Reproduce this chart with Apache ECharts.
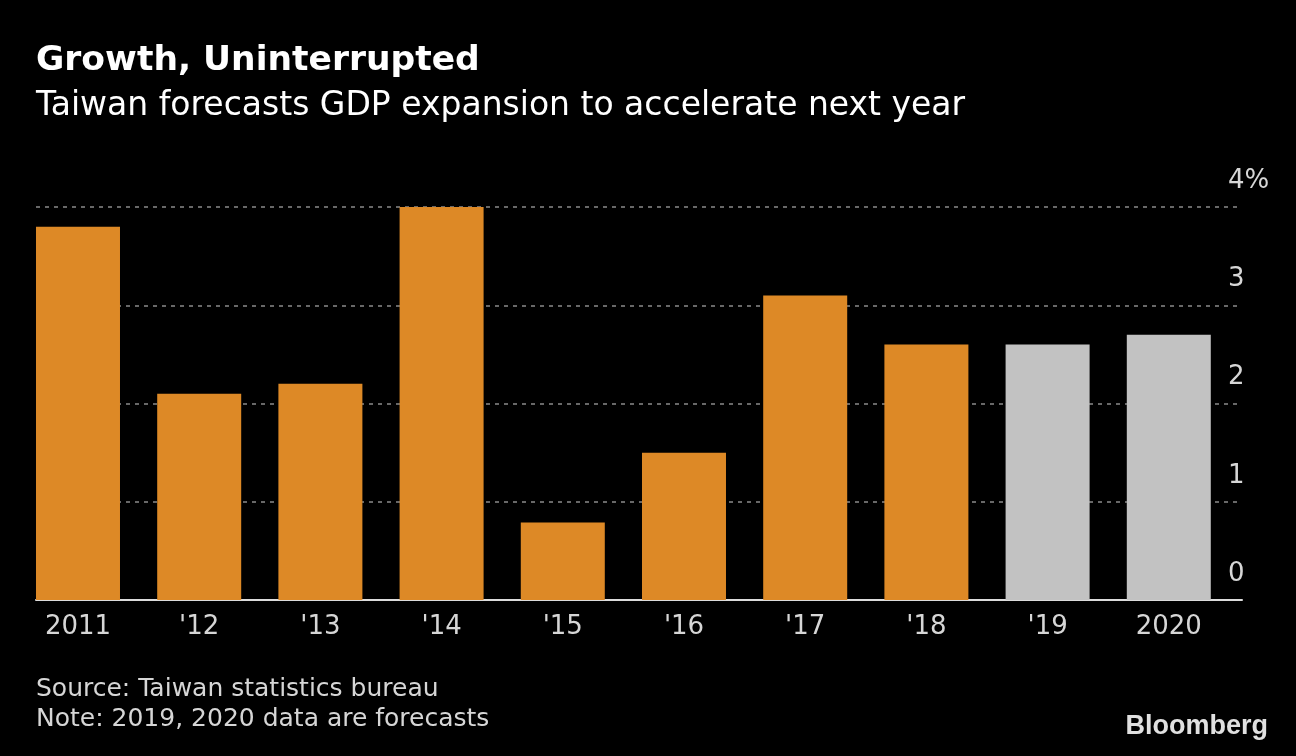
<!DOCTYPE html>
<html>
<head>
<meta charset="utf-8">
<style>
  html, body { margin: 0; padding: 0; background: #000; }
  #chart { width: 1296px; height: 756px; }
</style>
<script src="https://cdn.jsdelivr.net/npm/echarts@6/dist/echarts.min.js"></script>
</head>
<body>
<div id="chart"></div>
<script>
const categories = ['2011', "'12", "'13", "'14", "'15", "'16", "'17", "'18", "'19", '2020'];
const actualValues = [3.80, 2.10, 2.20, 4.00, 0.79, 1.50, 3.10, 2.60, null, null];
const forecastValues = [null, null, null, null, null, null, null, null, 2.60, 2.70];
const yTickLabels = { 0: '0', 1: '1', 2: '2', 3: '3', 4: '4%' };

const FONT = '"DejaVu Sans", sans-serif';

const chart = echarts.init(document.getElementById('chart'), null, { renderer: 'canvas' });

const toPairs = arr => arr.map((v, i) => v == null ? null : [i, v]).filter(d => d);

chart.setOption({
  backgroundColor: '#000000',
  animation: false,
  grid: { left: 36, right: 54, top: 207, bottom: 156 },
  xAxis: {
    type: 'value',
    min: -0.3465,
    max: 9.604,
    splitLine: { show: false },
    axisTick: { show: false },
    axisLine: { show: true, lineStyle: { color: '#dcdcdc', width: 2 } },
    axisLabel: {
      customValues: categories.map((c, i) => i),
      formatter: v => categories[Math.round(v)],
      color: '#d6d6d6',
      fontFamily: FONT,
      fontSize: 26,
      margin: 14
    }
  },
  yAxis: {
    type: 'value',
    position: 'right',
    min: 0,
    max: 4,
    interval: 1,
    axisLine: { show: false },
    axisTick: { show: false },
    splitLine: { show: true, lineStyle: { color: '#8a8a8a', type: [4, 5], width: 1.5 } },
    axisLabel: {
      formatter: v => yTickLabels[v],
      color: '#d6d6d6',
      fontFamily: FONT,
      fontSize: 26,
      margin: -14,
      align: 'left',
      verticalAlign: 'bottom',
      padding: [0, 0, 13, 0]
    }
  },
  series: [
    {
      type: 'bar',
      data: toPairs(actualValues),
      barWidth: 84,
      barGap: '-100%',
      itemStyle: { color: '#DD8926' }
    },
    {
      type: 'bar',
      data: toPairs(forecastValues),
      barWidth: 84,
      barGap: '-100%',
      itemStyle: { color: '#C2C2C2' }
    }
  ],
  graphic: [
    { type: 'text', left: 36, top: 44, style: { text: 'Growth, Uninterrupted', fill: '#ffffff', font: 'bold 34.5px ' + FONT } },
    { type: 'text', left: 36, top: 90, style: { text: 'Taiwan forecasts GDP expansion to accelerate next year', fill: '#ffffff', font: '33px ' + FONT } },
    { type: 'text', left: 36, top: 677, style: { text: 'Source: Taiwan statistics bureau', fill: '#d6d6d6', font: '25px ' + FONT } },
    { type: 'text', left: 36, top: 707, style: { text: 'Note: 2019, 2020 data are forecasts', fill: '#d6d6d6', font: '25px ' + FONT } },
    { type: 'text', right: 28, top: 713, style: { text: 'Bloomberg', fill: '#e0e0e0', font: 'bold 27px "Liberation Sans", Arial, sans-serif' } }
  ]
});
</script>
</body>
</html>
